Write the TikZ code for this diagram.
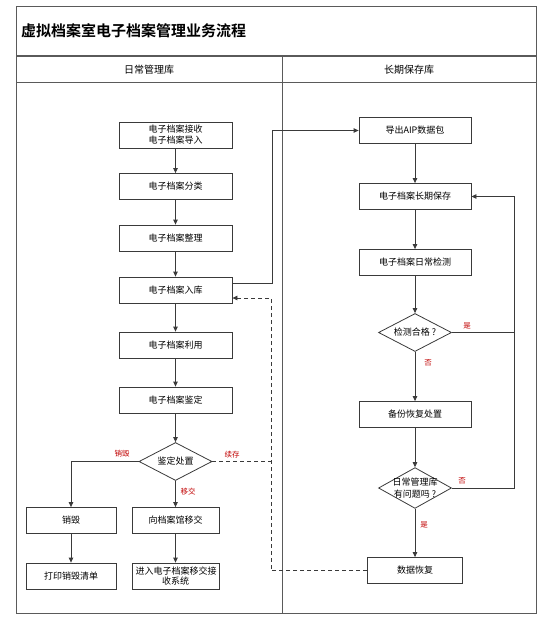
\documentclass[tikz,border=0pt]{standalone}
\usepackage{fontspec}
\setmainfont{Noto Sans CJK SC}[BoldFont={Noto Sans CJK SC Bold}]
\usetikzlibrary{arrows.meta,shapes.geometric}

\definecolor{linegray}{HTML}{3A3A3A}
\definecolor{framegray}{HTML}{5A5A5A}
\definecolor{labelred}{HTML}{C00000}

\begin{document}
\begin{tikzpicture}[x=1pt,y=-1pt]
\tikzset{
  procbox/.style={rectangle,draw=linegray,line width=0.8pt,fill=white,minimum width=113pt,minimum height=26pt,inner sep=1pt,align=center,font=\fontsize{9}{11}\selectfont},
  decision/.style={diamond,draw=linegray,line width=0.8pt,fill=white,minimum width=73pt,minimum height=38pt,inner sep=-6pt,align=center,font=\fontsize{9}{11.5}\selectfont},
  flowline/.style={draw=linegray,line width=0.8pt},
  flow/.style={flowline,-{Triangle[length=5pt,width=4.5pt]}},
  dashflow/.style={flow,dashed,dash pattern=on 4pt off 3pt},
  dashline/.style={flowline,dashed,dash pattern=on 4pt off 3pt},
  flowlabel/.style={text=labelred,font=\fontsize{7.5}{9}\selectfont,inner sep=0pt},
  framelines/.style={draw=framegray,line width=1pt}
}
\useasboundingbox (0,0) rectangle (551,620);
% frame
\draw[framelines] (16,7) rectangle (536,613);
\draw[framelines,line width=1.6pt] (16,56) -- (536,56);
\draw[framelines] (16,83) -- (536,83);
\draw[framelines] (282,56) -- (282,613);
\node[anchor=west,font=\fontsize{15}{18}\selectfont\bfseries,inner sep=0pt] (n_title) at (21,31) {虚拟档案室电子档案管理业务流程};
\node[font=\fontsize{10}{12}\selectfont] (n_daily) at (149,70) {日常管理库};
\node[font=\fontsize{10}{12}\selectfont] (n_longterm) at (409,70) {长期保存库};
% left lane
\node[procbox] (n_recv) at (175.5,135) {电子档案接收\\电子档案导入};
\node[procbox] (n_class) at (175.5,186.5) {电子档案分类};
\node[procbox] (n_arrange) at (175.5,238) {电子档案整理};
\node[procbox] (n_store) at (175.5,290) {电子档案入库};
\node[procbox] (n_use) at (175.5,345) {电子档案利用};
\node[procbox] (n_appr) at (175.5,400) {电子档案鉴定};
\node[decision] (n_disp) at (175.5,461.5) {鉴定处置};
\node[procbox,minimum width=90pt] (n_destroy) at (71,520.5) {销毁};
\node[procbox,minimum width=90pt] (n_print) at (71,576) {打印销毁清单};
\node[procbox,minimum width=87pt] (n_xfer) at (175.5,520.5) {向档案馆移交};
\node[procbox,minimum width=87pt,text width=80pt,inner sep=0pt,font=\fontsize{9}{10.5}\selectfont] (n_sys) at (175.5,576) {进入电子档案移交接\\收系统};
% right lane
\node[procbox,minimum width=112pt] (n_aip) at (415,130.5) {导出AIP数据包};
\node[procbox,minimum width=112pt] (n_long) at (415,196.5) {电子档案长期保存};
\node[procbox,minimum width=112pt] (n_check_daily) at (415,262.5) {电子档案日常检测};
\node[decision] (n_pass) at (415,332.5) {检测合格 ?};
\node[procbox,minimum width=112pt] (n_backup) at (415,414.5) {备份恢复处置};
\node[decision] (n_issue) at (415,488) {日常管理库\\有问题吗 ?};
\node[procbox,minimum width=95pt] (n_restore) at (415,570.5) {数据恢复};
\coordinate (c_dash) at (271,461.5);
\coordinate (c_back) at (514,196.5);
% connectors
\draw[flow] (n_recv) -- (n_class);
\draw[flow] (n_class) -- (n_arrange);
\draw[flow] (n_arrange) -- (n_store);
\draw[flow] (n_store) -- (n_use);
\draw[flow] (n_use) -- (n_appr);
\draw[flow] (n_appr) -- (n_disp);
\draw[flow] (n_disp.west) -| (n_destroy.north);
\draw[flow] (n_disp) -- (n_xfer);
\draw[flow] (n_destroy) -- (n_print);
\draw[flow] (n_xfer) -- (n_sys);
\draw[flow] ([yshift=7pt]n_store.east) -- ++(40,0) |- (n_aip.west);
\draw[dashflow] (n_disp.east) -- (c_dash) |- ([yshift=-8pt]n_store.east);
\draw[dashline] (n_restore.west) -| (c_dash);
\draw[flow] (n_aip) -- (n_long);
\draw[flow] (n_long) -- (n_check_daily);
\draw[flow] (n_check_daily) -- (n_pass);
\draw[flow] (n_pass) -- (n_backup);
\draw[flow] (n_backup) -- (n_issue);
\draw[flow] (n_issue) -- (n_restore);
\draw[flowline] (n_pass.east) -- (n_pass.east -| c_back);
\draw[flow] (n_issue.east) -| (c_back) -- (n_long.east);
% branch labels
\node[flowlabel] (l_destroy) at (122,454) {销毁};
\node[flowlabel] (l_keep) at (232,455) {续存};
\node[flowlabel] (l_xfer) at (188,492) {移交};
\node[flowlabel] (l_pass_yes) at (467,326) {是};
\node[flowlabel] (l_pass_no) at (428,363) {否};
\node[flowlabel] (l_issue_no) at (462,481) {否};
\node[flowlabel] (l_issue_yes) at (424,525) {是};
\end{tikzpicture}
\end{document}
